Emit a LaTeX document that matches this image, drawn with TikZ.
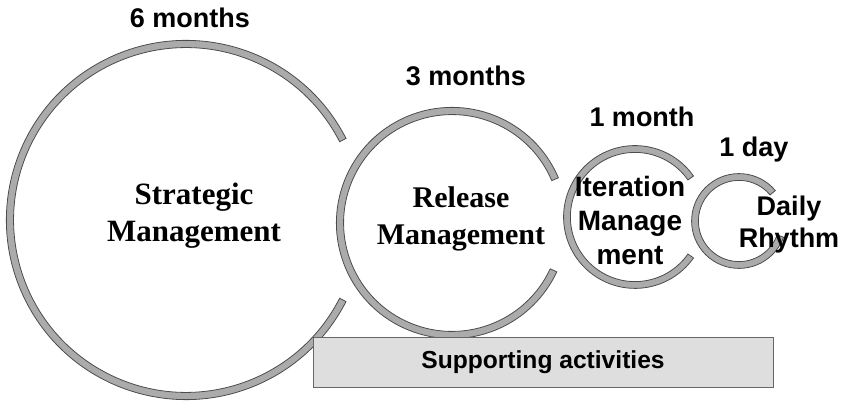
\documentclass[tikz,border=0pt]{standalone}
\usepackage{fontspec}
\setmainfont{Liberation Serif}
\setsansfont{Liberation Sans}
\usetikzlibrary{positioning}

\begin{document}
\begin{tikzpicture}[x=1pt, y=1pt]
\tikzstyle{ring}=[draw=black!70, line width=0.8pt, fill=black!33]
\tikzstyle{period}=[font=\sffamily\bfseries\fontsize{27}{32}\selectfont, inner sep=0pt, anchor=base]
\tikzstyle{phase}=[font=\rmfamily\bfseries\fontsize{31}{37}\selectfont, align=center, inner sep=0pt]
\tikzstyle{phasesf}=[font=\sffamily\bfseries\fontsize{28}{34}\selectfont, align=center, inner sep=0pt]
\useasboundingbox (0,0) rectangle (844,401);

% centres of the cycles
\coordinate (c1) at (186,181);
\coordinate (c2) at (452,178);
\coordinate (c3) at (635,184);
\coordinate (c4) at (739,180);

\filldraw[ring] ([shift={(c1)}]27:179.6pt) arc[start angle=27, end angle=333, radius=179.6pt]
  -- ([shift={(c1)}]333:172.4pt) arc[start angle=333, end angle=27, radius=172.4pt] -- cycle;
\filldraw[ring] ([shift={(c2)}]23:115.6pt) arc[start angle=23, end angle=335, radius=115.6pt]
  -- ([shift={(c2)}]335:108.4pt) arc[start angle=335, end angle=23, radius=108.4pt] -- cycle;
\filldraw[ring] ([shift={(c3)}]35:71.4pt) arc[start angle=35, end angle=325, radius=71.4pt]
  -- ([shift={(c3)}]325:64.6pt) arc[start angle=325, end angle=35, radius=64.6pt] -- cycle;
\filldraw[ring] ([shift={(c4)}]40:47.4pt) arc[start angle=40, end angle=340, radius=47.4pt]
  -- ([shift={(c4)}]340:40.6pt) arc[start angle=340, end angle=40, radius=40.6pt] -- cycle;

\node[period] (p1) at (190,373) {6 months};
\node[period] (p2) at (466,315) {3 months};
\node[period] (p3) at (642,274) {1 month};
\node[period] (p4) at (754,244) {1 day};

\node[phase] (strat) at (194,185) {Strategic\\Management};
\node[phase, font=\rmfamily\bfseries\fontsize{30}{37}\selectfont] (rel) at (461,182) {Release\\Management};
\node[phasesf] (iter) at (630,181) {Iteration\\Manage\\ment};
\node[phasesf, font=\sffamily\bfseries\fontsize{27}{32}\selectfont] (daily) at (789,176) {Daily\\Rhythm};

\node[draw=black!60, fill=black!13, line width=0.8pt, inner sep=0pt,
  minimum width=460pt, minimum height=50pt,
  font=\sffamily\bfseries\fontsize{24.6}{29}\selectfont] (support) at (543,39) {Supporting activities};
\end{tikzpicture}
\end{document}
